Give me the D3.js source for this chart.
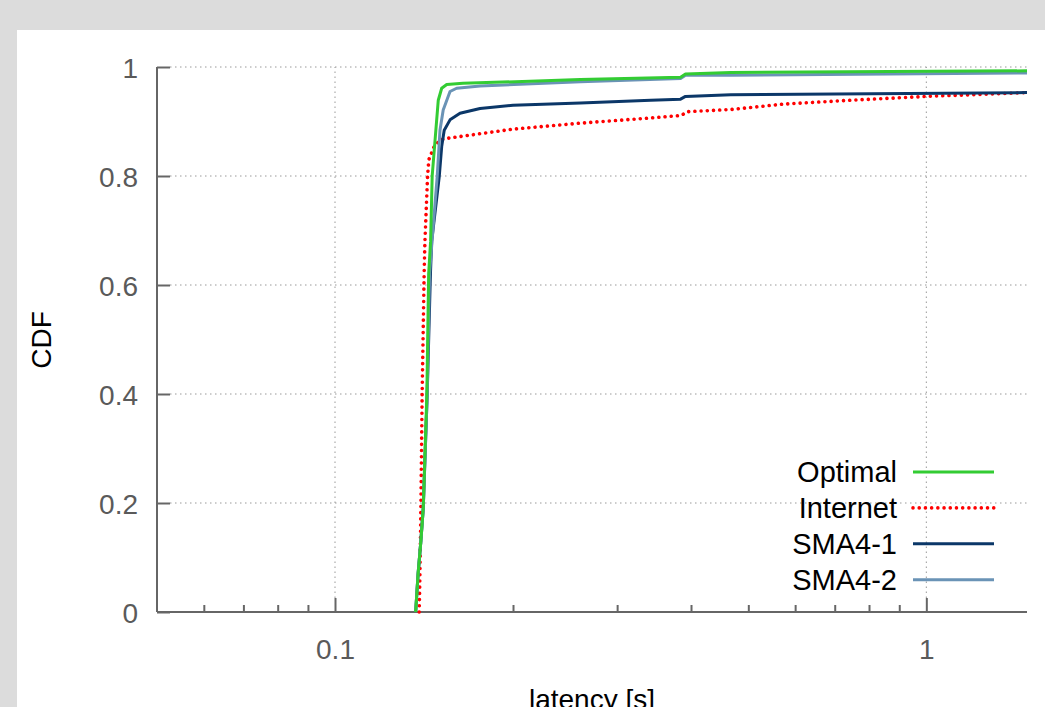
<!DOCTYPE html>
<html lang="en">
<head>
<meta charset="utf-8">
<title>latency CDF</title>
<script src="https://cdn.jsdelivr.net/npm/d3@7"></script>
<style>
    body { margin: 0; background: #dcdcdc; }
    svg { display: block; }
    .axis path, .axis line { stroke: #666; stroke-width: 2; fill: none; }
    .axis text { font-family: "Liberation Sans", Arial, sans-serif; font-size: 28px; fill: #5a5a5a; }
    .grid line { stroke: #999; stroke-width: 1; stroke-dasharray: 1.5, 3.5; }
    .label { font-family: "Liberation Sans", Arial, sans-serif; font-size: 28px; fill: #000; }
    .legend text { font-family: "Liberation Sans", Arial, sans-serif; font-size: 29px; fill: #000; }
</style>
</head>
<body>
<script>
    // series names and latency (s) / CDF pairs
    var seriesNames = ["Optimal", "Internet", "SMA4-1", "SMA4-2"];

    var optimal = [[0.1369, 0], [0.1382, 0.07], [0.1397, 0.13], [0.1410, 0.19], [0.1430, 0.40],
        [0.1440, 0.62], [0.1451, 0.68], [0.1460, 0.80], [0.1481, 0.884], [0.1495, 0.939],
        [0.1515, 0.961], [0.1545, 0.968], [0.1646, 0.970], [0.260, 0.977], [0.384, 0.981],
        [0.3915, 0.987], [0.467, 0.990], [1.48, 0.993]];

    var internet = [[0.1388, 0], [0.1392, 0.07], [0.1397, 0.19], [0.1404, 0.40], [0.1415, 0.622],
        [0.1419, 0.677], [0.1434, 0.80], [0.1441, 0.83], [0.1470, 0.853], [0.1505, 0.866],
        [0.1545, 0.869], [0.200, 0.886], [0.260, 0.897], [0.337, 0.906], [0.374, 0.910],
        [0.385, 0.911], [0.394, 0.918], [0.467, 0.922], [0.574, 0.932], [0.745, 0.939],
        [1.0, 0.946], [1.48, 0.953]];

    var sma41 = [[0.1369, 0], [0.1382, 0.07], [0.1397, 0.13], [0.1410, 0.19], [0.1432, 0.40],
        [0.1450, 0.62], [0.1457, 0.68], [0.1501, 0.80], [0.1515, 0.854], [0.1530, 0.884],
        [0.1565, 0.903], [0.1627, 0.915], [0.1759, 0.924], [0.200, 0.930], [0.260, 0.934],
        [0.342, 0.939], [0.384, 0.941], [0.3915, 0.946], [0.467, 0.949], [1.48, 0.953]];

    var sma42 = [[0.1369, 0], [0.1382, 0.07], [0.1397, 0.13], [0.1410, 0.19], [0.1432, 0.40],
        [0.1445, 0.62], [0.1459, 0.68], [0.1489, 0.80], [0.1505, 0.884], [0.1524, 0.921],
        [0.1565, 0.955], [0.1606, 0.961], [0.1759, 0.965], [0.260, 0.973], [0.384, 0.979],
        [0.3915, 0.985], [0.467, 0.985], [1.48, 0.989]];

    var yTicks = [0, 0.2, 0.4, 0.6, 0.8, 1];
    var xMajor = [0.1, 1];
    var xMinor = [0.06, 0.07, 0.08, 0.09, 0.2, 0.3, 0.4, 0.5, 0.6, 0.7, 0.8, 0.9];

    var width = 1045, height = 707;
    var svg = d3.select("body").append("svg")
        .attr("width", width)
        .attr("height", height);

    // white panel on the grey page
    svg.append("rect").attr("x", 17).attr("y", 30)
        .attr("width", width - 17).attr("height", height - 30)
        .attr("fill", "#fff");

    var plotL = 157, plotR = 1027, plotT = 67, plotB = 612;

    var x = d3.scaleLog().domain([0.05, 1.48]).range([plotL, plotR]);
    var y = d3.scaleLinear().domain([0, 1]).range([plotB, plotT]);

    // grid
    var grid = svg.append("g").attr("class", "grid");
    grid.selectAll(".h").data(yTicks.slice(1)).enter().append("line")
        .attr("x1", plotL + 13).attr("x2", plotR)
        .attr("y1", function (d) { return y(d); })
        .attr("y2", function (d) { return y(d); });
    grid.selectAll(".v").data(xMajor).enter().append("line")
        .attr("x1", function (d) { return x(d); })
        .attr("x2", function (d) { return x(d); })
        .attr("y1", plotB - 14).attr("y2", plotT);

    // axes
    var yAxis = d3.axisLeft(y).tickValues(yTicks).tickSize(-13)
        .tickFormat(d3.format("~g"));
    var gy = svg.append("g").attr("class", "axis")
        .attr("transform", "translate(" + plotL + ",0)")
        .call(yAxis);
    gy.select(".domain").attr("d", "M0," + plotB + "V" + plotT);
    gy.selectAll("text").attr("x", -19).attr("dy", "0.36em");

    var xMinorAxis = d3.axisBottom(x).tickValues(xMinor).tickSize(-7).tickFormat("");
    var gxm = svg.append("g").attr("class", "axis")
        .attr("transform", "translate(0," + plotB + ")")
        .call(xMinorAxis);
    gxm.select(".domain").remove();

    var xAxis = d3.axisBottom(x).tickValues(xMajor).tickSize(-14)
        .tickFormat(d3.format("~g"));
    var gx = svg.append("g").attr("class", "axis")
        .attr("transform", "translate(0," + plotB + ")")
        .call(xAxis);
    gx.select(".domain").attr("d", "M" + plotL + ",0H" + plotR);
    gx.selectAll("text").attr("y", 47).attr("dy", 0);

    // axis labels
    svg.append("text").attr("class", "label")
        .attr("transform", "translate(51,340) rotate(-90)")
        .attr("text-anchor", "middle")
        .text("CDF");
    svg.append("text").attr("class", "label")
        .attr("x", 592).attr("y", 709)
        .attr("text-anchor", "middle")
        .text("latency [s]");

    // curves
    var series = [
        { name: seriesNames[0], data: optimal, color: "#33cc33", dash: null, w: 3 },
        { name: seriesNames[1], data: internet, color: "#ff0000", dash: "0.01 6.2", w: 3.6 },
        { name: seriesNames[2], data: sma41, color: "#0b3768", dash: null, w: 3 },
        { name: seriesNames[3], data: sma42, color: "#6a93b6", dash: null, w: 3 }
    ];

    var line = d3.line()
        .x(function (d) { return x(d[0]); })
        .y(function (d) { return y(d[1]); });

    // draw order: red first, then navy, light blue, green on top
    var drawOrder = [1, 2, 3, 0];
    svg.append("g").selectAll("path").data(drawOrder.map(function (i) { return series[i]; }))
        .enter().append("path")
        .attr("fill", "none")
        .attr("stroke", function (d) { return d.color; })
        .attr("stroke-width", function (d) { return d.w; })
        .attr("stroke-dasharray", function (d) { return d.dash; })
        .attr("stroke-linecap", function (d) { return d.dash ? "round" : "butt"; })
        .attr("stroke-linejoin", "round")
        .attr("d", function (d) { return line(d.data); });

    // legend
    var legend = svg.append("g").attr("class", "legend");
    var rows = legend.selectAll("g").data(series).enter().append("g")
        .attr("transform", function (d, i) { return "translate(0," + (472 + i * 35.9) + ")"; });
    rows.append("text")
        .attr("x", 897).attr("dy", "0.36em")
        .attr("text-anchor", "end")
        .text(function (d) { return d.name; });
    rows.append("line")
        .attr("x1", 913).attr("x2", 994)
        .attr("stroke", function (d) { return d.color; })
        .attr("stroke-width", function (d) { return d.w; })
        .attr("stroke-dasharray", function (d) { return d.dash; })
        .attr("stroke-linecap", function (d) { return d.dash ? "round" : "butt"; });
</script>
</body>
</html>
